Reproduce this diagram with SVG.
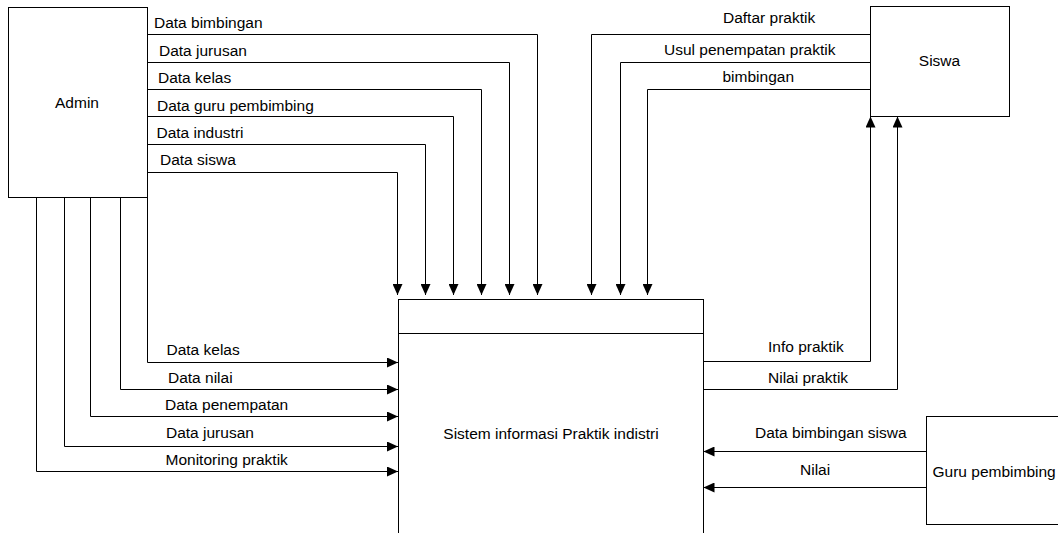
<svg xmlns="http://www.w3.org/2000/svg" width="1058" height="533" viewBox="0 0 1058 533">
<style>
.box{fill:#fff;stroke:#000;stroke-width:1}
.ln{fill:none;stroke:#000;stroke-width:1;marker-end:url(#ah)}
.t{font-family:"Liberation Sans",Arial,sans-serif;font-size:15.5px;fill:#000}
.c{text-anchor:middle}
</style>
<defs>
<marker id="ah" viewBox="0 0 11 10" refX="11" refY="5" markerWidth="11" markerHeight="10" markerUnits="userSpaceOnUse" orient="auto">
<path d="M0,0 L11,5 L0,10 Z" fill="#000"/>
</marker>
</defs>
<rect width="1058" height="533" fill="#fff"/>
<g id="connectors">
<polyline class="ln" points="147.5,34.5 537.5,34.5 537.5,295"/>
<polyline class="ln" points="145,62.5 509.5,62.5 509.5,295"/>
<polyline class="ln" points="147.5,89.5 481.5,89.5 481.5,295"/>
<polyline class="ln" points="147.5,116.5 453.5,116.5 453.5,295"/>
<polyline class="ln" points="147.5,144.5 425.5,144.5 425.5,295"/>
<polyline class="ln" points="147.5,172.5 397.5,172.5 397.5,295"/>
<polyline class="ln" points="870.5,34.5 591.5,34.5 591.5,295"/>
<polyline class="ln" points="870.5,62.5 620.5,62.5 620.5,295"/>
<polyline class="ln" points="870.5,89.5 647.5,89.5 647.5,295"/>
<polyline class="ln" points="147.5,197.5 147.5,362.5 398,362.5"/>
<polyline class="ln" points="120.5,197.5 120.5,389.5 398,389.5"/>
<polyline class="ln" points="90.5,197.5 90.5,416.5 398,416.5"/>
<polyline class="ln" points="64.5,197.5 64.5,446.5 398,446.5"/>
<polyline class="ln" points="36.5,197.5 36.5,471.5 398,471.5"/>
<polyline class="ln" points="703.5,361.5 870.5,361.5 870.5,116.5"/>
<polyline class="ln" points="703.5,389.5 897.5,389.5 897.5,116.5"/>
<polyline class="ln" points="926.5,451.5 703.5,451.5"/>
<polyline class="ln" points="926.5,487.5 703.5,487.5"/>
<text class="t" x="154" y="28">Data bimbingan</text>
<text class="t" x="159" y="56">Data jurusan</text>
<text class="t" x="158" y="83">Data kelas</text>
<text class="t" x="157" y="110.5">Data guru pembimbing</text>
<text class="t" x="156.5" y="137.5">Data industri</text>
<text class="t" x="160" y="164.5">Data siswa</text>
<text class="t" x="723" y="22.5">Daftar praktik</text>
<text class="t" x="664" y="55">Usul penempatan praktik</text>
<text class="t" x="722.5" y="81.5">bimbingan</text>
<text class="t" x="166.5" y="355">Data kelas</text>
<text class="t" x="168" y="382.5">Data nilai</text>
<text class="t" x="165" y="410">Data penempatan</text>
<text class="t" x="166" y="438">Data jurusan</text>
<text class="t" x="165.5" y="465">Monitoring praktik</text>
<text class="t" x="768" y="351.5">Info praktik</text>
<text class="t" x="768" y="382.5">Nilai praktik</text>
<text class="t" x="755" y="437.5">Data bimbingan siswa</text>
<text class="t" x="800" y="475">Nilai</text>
</g>
<g id="admin">
<rect class="box" x="8.5" y="7.5" width="139" height="190"/>
<text class="t c" x="77" y="108">Admin</text>
</g>
<g id="siswa">
<rect class="box" x="870.5" y="6.5" width="139" height="110"/>
<text class="t c" x="939.5" y="66">Siswa</text>
</g>
<g id="sistem">
<rect class="box" x="398.5" y="299.5" width="305" height="245"/>
<line x1="398.5" y1="333.5" x2="703.5" y2="333.5" stroke="#000" stroke-width="1"/>
<text class="t c" x="551" y="439">Sistem informasi Praktik indistri</text>
</g>
<g id="guru">
<rect class="box" x="926.5" y="416.5" width="145" height="108"/>
<text class="t" x="932.5" y="477">Guru pembimbing</text>
</g>
</svg>
